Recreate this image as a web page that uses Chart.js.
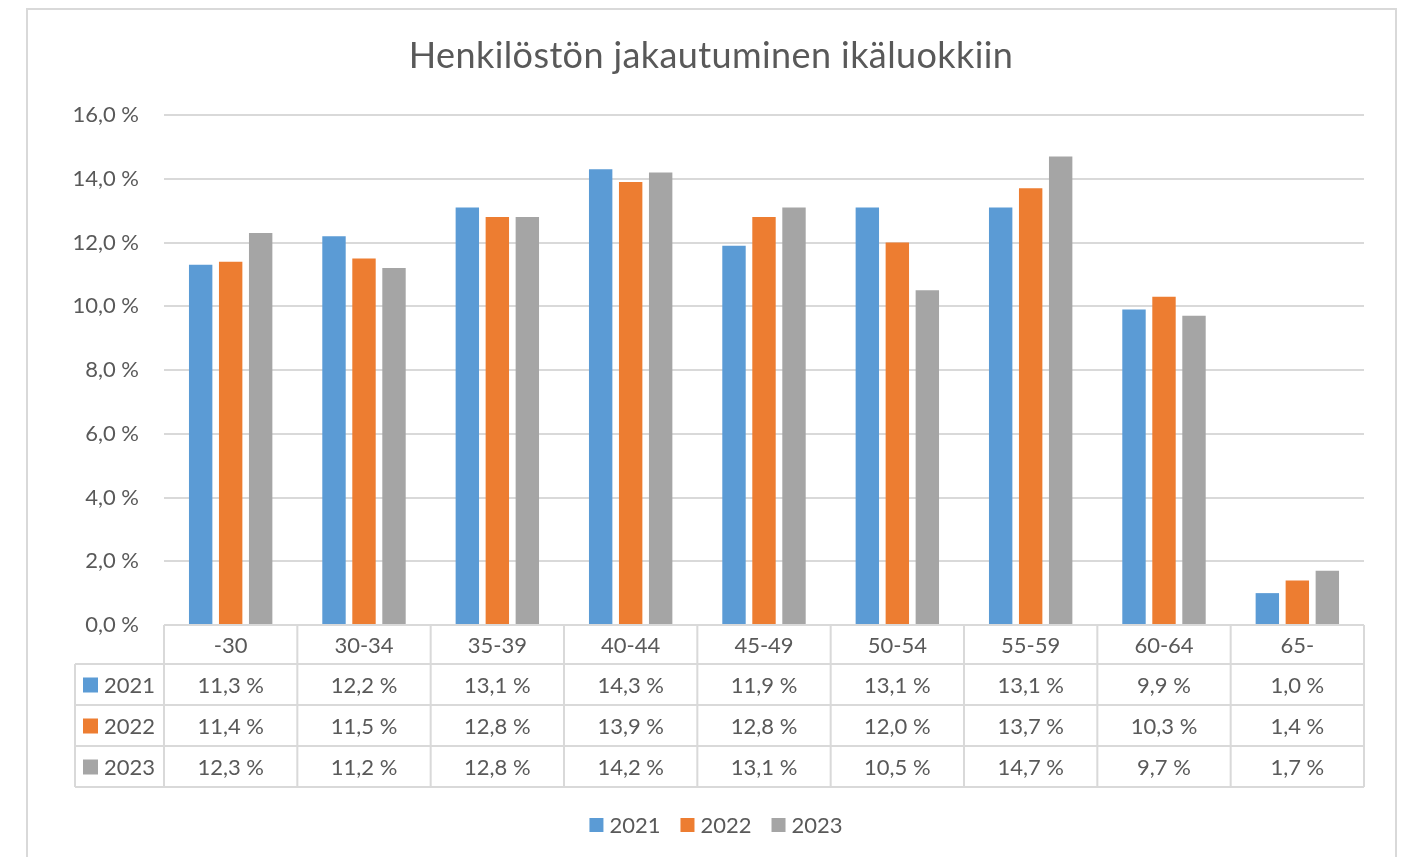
<!DOCTYPE html>
<html>
<head>
<meta charset="utf-8">
<script src="https://cdn.jsdelivr.net/npm/chart.js@4.4.1/dist/chart.umd.min.js"></script>
<style>
  html, body { margin: 0; padding: 0; background: #ffffff; }
  #wrap { width: 1423px; height: 857px; position: relative; }
</style>
</head>
<body>
<div id="wrap"><canvas id="c" width="1423" height="857"></canvas></div>
<script>
const chartTitle = 'Henkilöstön jakautuminen ikäluokkiin';
const categories = ['-30', '30-34', '35-39', '40-44', '45-49', '50-54', '55-59', '60-64', '65-'];
const seriesNames = ['2021', '2022', '2023'];
const values2021 = [11.3, 12.2, 13.1, 14.3, 11.9, 13.1, 13.1, 9.9, 1.0];
const values2022 = [11.4, 11.5, 12.8, 13.9, 12.8, 12.0, 13.7, 10.3, 1.4];
const values2023 = [12.3, 11.2, 12.8, 14.2, 13.1, 10.5, 14.7, 9.7, 1.7];
const seriesColors = ['#5B9BD5', '#ED7D31', '#A5A5A5'];
const yMin = 0, yMax = 16, yStep = 2;

const FONT = 'Lato, Carlito, Calibri, "Open Sans", sans-serif';
const TEXT = '#595959';
const LINE = '#D9D9D9';

function fmt(v) { return v.toFixed(1).replace('.', ',') + ' %'; }

const allSeries = [values2021, values2022, values2023];

const tablePlugin = {
  id: 'excelExtras',
  beforeDraw(chart) {
    const ctx = chart.ctx;
    ctx.save();
    ctx.fillStyle = '#ffffff';
    ctx.fillRect(0, 0, chart.width, chart.height);
    ctx.restore();
  },
  afterDraw(chart) {
    const ctx = chart.ctx;
    const area = chart.chartArea;
    const x = chart.scales.x;
    ctx.save();
    // outer frame
    ctx.strokeStyle = LINE;
    ctx.lineWidth = 2;
    ctx.strokeRect(27, 9, 1369, 900);

    // title
    ctx.fillStyle = TEXT;
    ctx.font = '36px ' + FONT;
    ctx.letterSpacing = '0.4px';
    ctx.textAlign = 'center';
    ctx.textBaseline = 'middle';
    ctx.fillText(chartTitle, 711, 56);
    ctx.letterSpacing = '0px';

    // data table
    const top = area.bottom;
    const rowH = 41;
    const headerH = 39;
    const left = area.left;
    const right = area.right;
    const legendLeft = 75;
    const n = categories.length;
    const catW = (right - left) / n;
    const rowsTop = top + headerH;
    const bottom = rowsTop + rowH * 3;

    ctx.strokeStyle = LINE;
    ctx.lineWidth = 2;
    ctx.beginPath();
    ctx.moveTo(left, top); ctx.lineTo(right, top);
    for (let r = 0; r <= 3; r++) {
      const yy = rowsTop + r * rowH;
      ctx.moveTo(legendLeft, yy); ctx.lineTo(right, yy);
    }
    ctx.moveTo(legendLeft, rowsTop); ctx.lineTo(legendLeft, bottom);
    for (let i = 0; i <= n; i++) {
      const xx = left + i * catW;
      ctx.moveTo(xx, top); ctx.lineTo(xx, bottom);
    }
    ctx.stroke();

    ctx.fillStyle = TEXT;
    ctx.font = '22px ' + FONT;
    ctx.textAlign = 'center';
    ctx.textBaseline = 'middle';
    categories.forEach((c, i) => {
      const cx = x.getPixelForValue(i);
      ctx.fillText(c, cx, top + headerH / 2 + 1);
    });
    allSeries.forEach((vals, r) => {
      const cy = rowsTop + r * rowH + rowH / 2 + 1;
      vals.forEach((v, i) => {
        const cx = x.getPixelForValue(i);
        ctx.fillText(fmt(v), cx, cy);
      });
      ctx.fillStyle = seriesColors[r];
      ctx.fillRect(83, cy - 8, 15, 15);
      ctx.fillStyle = TEXT;
      ctx.textAlign = 'left';
      ctx.fillText(seriesNames[r], 104, cy);
      ctx.textAlign = 'center';
    });

    // bottom legend
    ctx.font = '22px ' + FONT;
    ctx.textAlign = 'left';
    const items = seriesNames.map((s, i) => ({ s, w: ctx.measureText(s).width, c: seriesColors[i] }));
    const sw = 14, gapSw = 6, gapItem = 20;
    let total = 0;
    items.forEach((it, i) => { total += sw + gapSw + it.w + (i < items.length - 1 ? gapItem : 0); });
    let lx = 716 - total / 2;
    const ly = 825;
    items.forEach(it => {
      ctx.fillStyle = it.c;
      ctx.fillRect(lx, ly - 7, sw, sw);
      ctx.fillStyle = TEXT;
      ctx.fillText(it.s, lx + sw + gapSw, ly + 1);
      lx += sw + gapSw + it.w + gapItem;
    });
    ctx.restore();
  }
};

new Chart(document.getElementById('c'), {
  type: 'bar',
  data: {
    labels: categories,
    datasets: seriesNames.map((name, i) => ({
      label: name,
      data: allSeries[i],
      backgroundColor: seriesColors[i],
      borderWidth: 0,
      categoryPercentage: 0.675,
      barPercentage: 0.78
    }))
  },
  options: {
    responsive: false,
    animation: false,
    devicePixelRatio: 1,
    layout: { padding: { left: 0, right: 59, top: 115, bottom: 232 } },
    plugins: {
      legend: { display: false },
      title: { display: false },
      tooltip: { enabled: false }
    },
    scales: {
      x: { display: false },
      y: {
        min: yMin,
        max: yMax,
        afterFit(scale) { scale.width = 164; },
        border: { display: false },
        grid: { color: LINE, lineWidth: 2, drawTicks: false },
        ticks: {
          stepSize: yStep,
          padding: 25,
          color: TEXT,
          font: { family: FONT, size: 22 },
          callback: v => fmt(v)
        }
      }
    }
  },
  plugins: [tablePlugin]
});
</script>
</body>
</html>
